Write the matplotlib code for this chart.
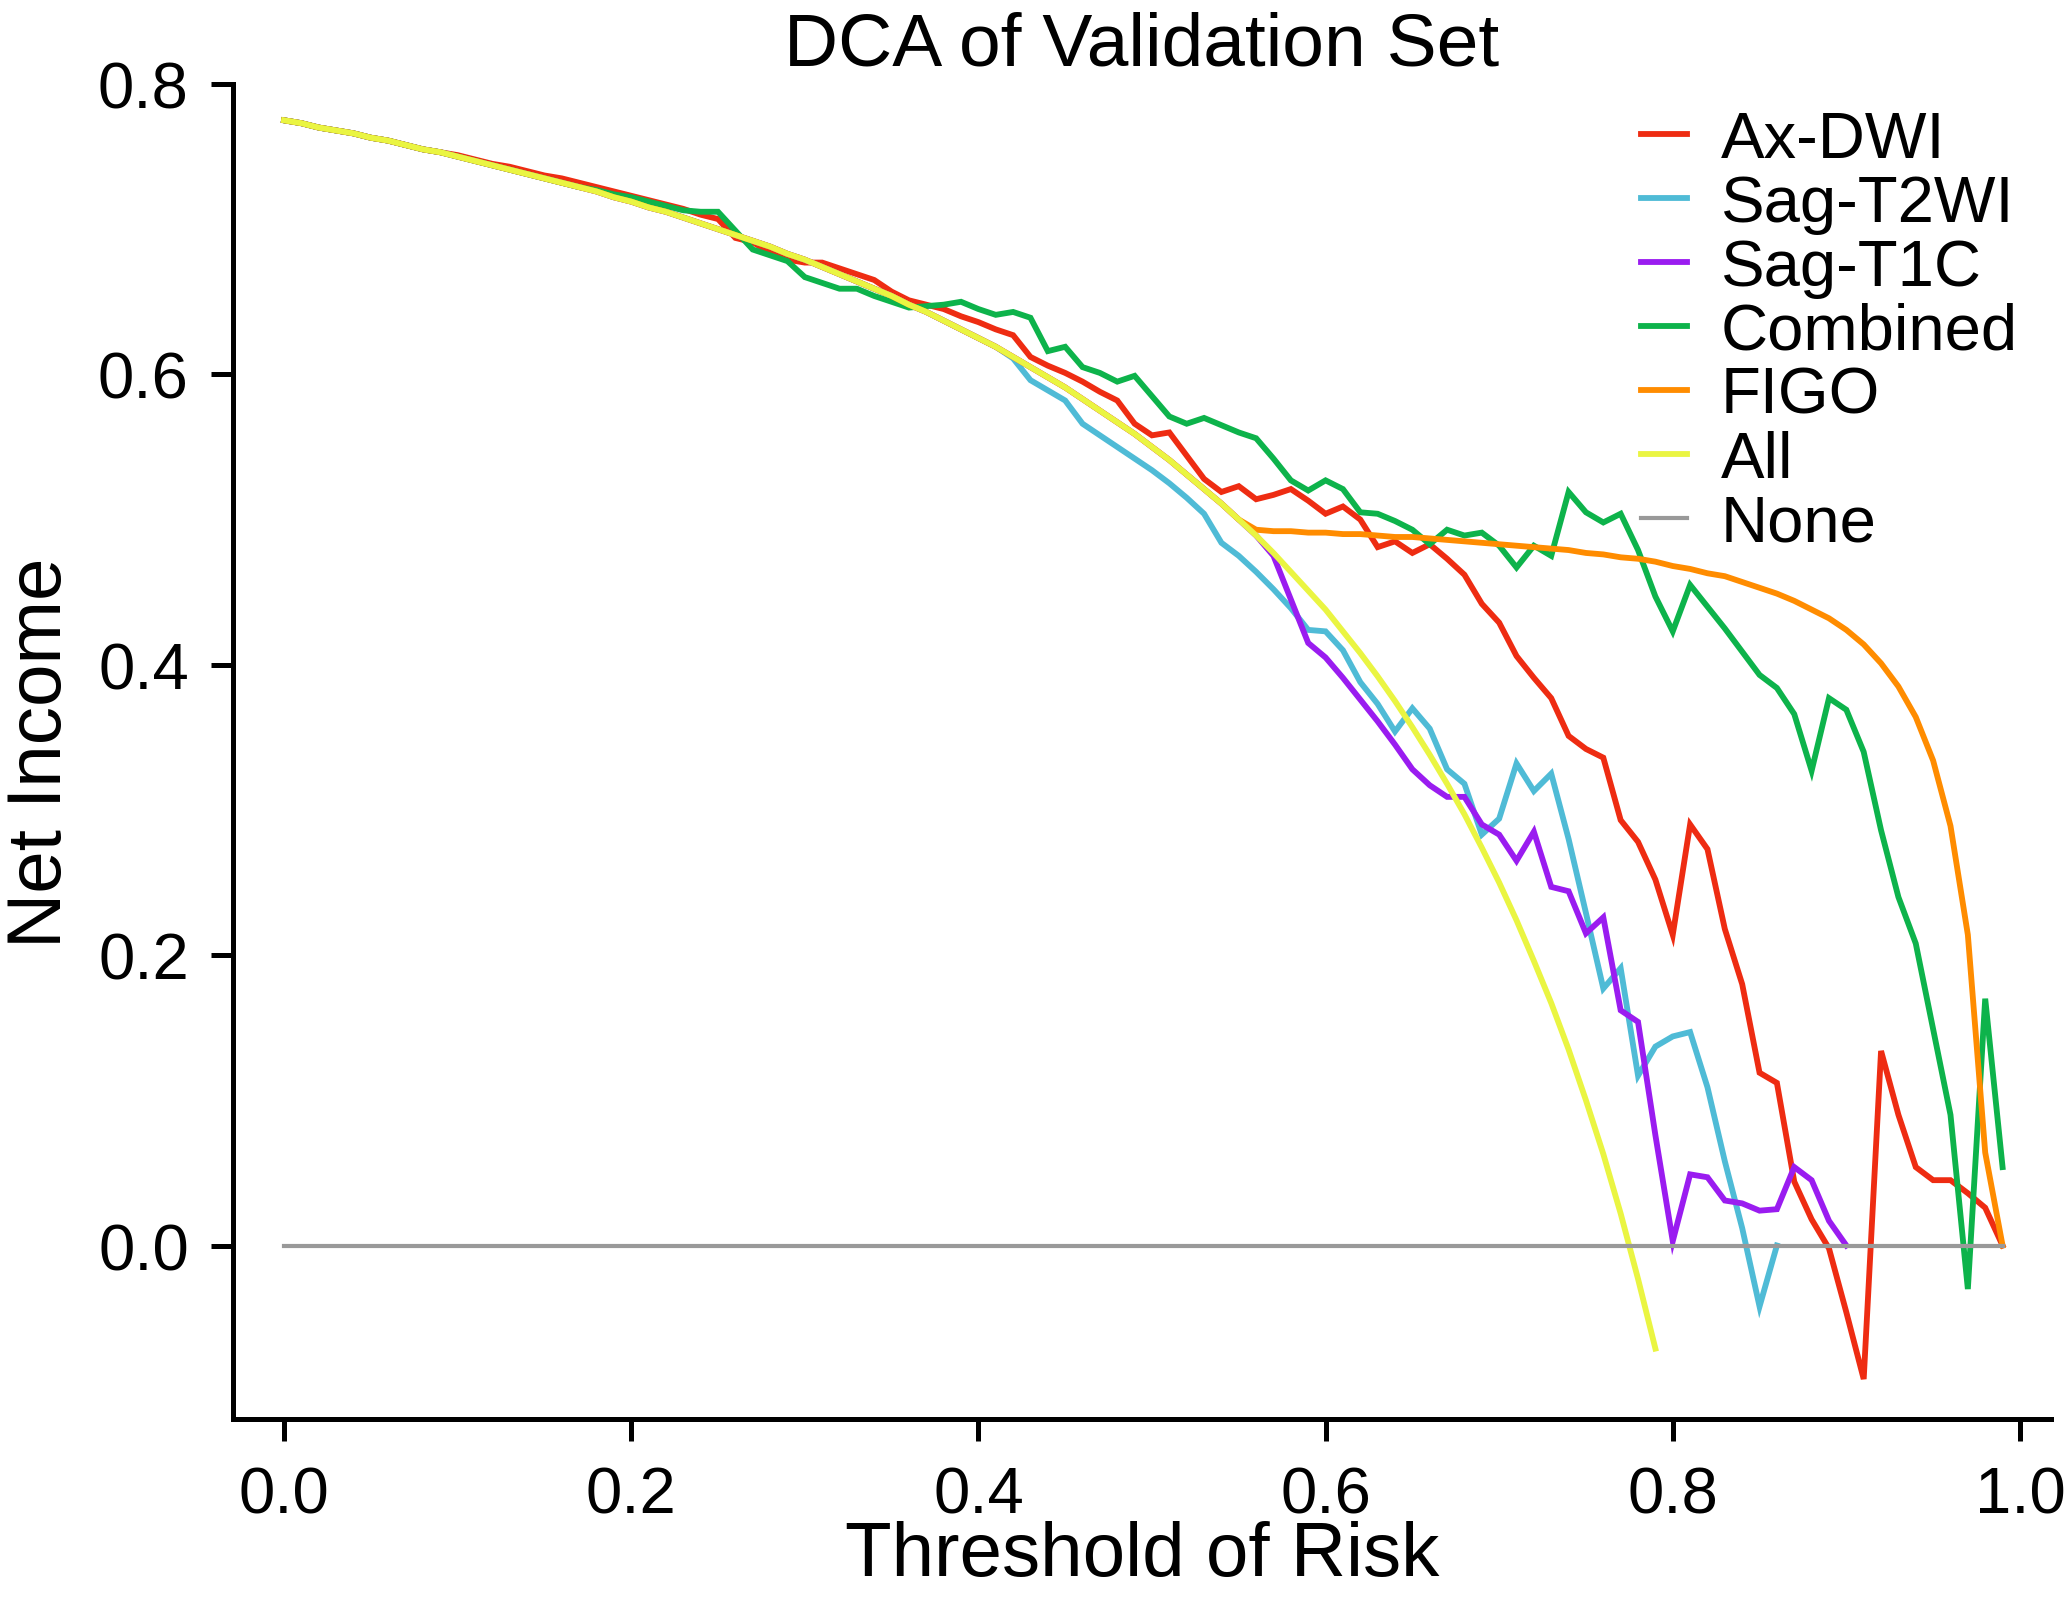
import numpy as np
import matplotlib
matplotlib.use('Agg')
import matplotlib.pyplot as plt

plt.rcParams['font.family'] = ['Liberation Sans', 'DejaVu Sans']

# threshold grid 0.00 .. 0.99
thresholds = np.round(np.arange(100) * 0.01, 2)

# treat-all curve (0.00 .. 0.79)
all_nb = [0.775, 0.773, 0.770, 0.768, 0.766, 0.763, 0.761, 0.758, 0.755, 0.753,
          0.750, 0.747, 0.744, 0.741, 0.738, 0.735, 0.732, 0.729, 0.726, 0.722,
          0.719, 0.715, 0.712, 0.708, 0.704, 0.700, 0.696, 0.692, 0.688, 0.683,
          0.679, 0.674, 0.669, 0.664, 0.659, 0.654, 0.648, 0.643, 0.637, 0.631,
          0.625, 0.619, 0.612, 0.605, 0.598, 0.591, 0.583, 0.575, 0.567, 0.559,
          0.550, 0.541, 0.531, 0.521, 0.511, 0.500, 0.489, 0.477, 0.464, 0.451,
          0.438, 0.423, 0.408, 0.392, 0.375, 0.357, 0.338, 0.318, 0.297, 0.274,
          0.250, 0.224, 0.196, 0.167, 0.135, 0.100, 0.063, 0.022, -0.023, -0.071]

# Ax-DWI (same as treat-all up to 0.09)
ax_dwi = all_nb[:10] + [
    0.751, 0.748, 0.745, 0.743, 0.740, 0.737, 0.735, 0.732, 0.729, 0.726,
    0.723, 0.720, 0.717, 0.714, 0.710, 0.707, 0.694, 0.691, 0.684, 0.679,
    0.677, 0.677, 0.673, 0.669, 0.665, 0.657, 0.651, 0.648, 0.645, 0.640,
    0.636, 0.631, 0.627, 0.612, 0.606, 0.601, 0.595, 0.588, 0.582, 0.566,
    0.558, 0.560, 0.544, 0.528, 0.519, 0.523, 0.514, 0.517, 0.521, 0.513,
    0.504, 0.509, 0.500, 0.481, 0.485, 0.477, 0.483, 0.473, 0.462, 0.442,
    0.429, 0.406, 0.391, 0.377, 0.351, 0.342, 0.336, 0.293, 0.278, 0.252,
    0.214, 0.290, 0.273, 0.218, 0.180, 0.119, 0.112, 0.044, 0.018, -0.002,
    -0.046, -0.092, 0.134, 0.090, 0.054, 0.045, 0.045, 0.036, 0.026, 0.000]

# Sag-T2WI (0.00 .. 0.86)
sag_t2wi = all_nb[:42] + [
    0.611, 0.596, 0.589, 0.582, 0.566, 0.558, 0.550, 0.542,
    0.534, 0.525, 0.515, 0.504, 0.484, 0.475, 0.464, 0.452, 0.439, 0.424,
    0.423, 0.410, 0.388, 0.373, 0.354, 0.370, 0.356, 0.328, 0.318, 0.283,
    0.294, 0.332, 0.313, 0.325, 0.280, 0.229, 0.177, 0.191, 0.117, 0.137,
    0.144, 0.147, 0.109, 0.058, 0.012, -0.042, 0.000]

# Sag-T1C (0.00 .. 0.90)
sag_t1c = all_nb[:57] + [
    0.475, 0.445, 0.415,
    0.405, 0.391, 0.376, 0.361, 0.345, 0.328, 0.317, 0.309, 0.309, 0.290,
    0.283, 0.265, 0.285, 0.247, 0.244, 0.215, 0.226, 0.162, 0.154, 0.076,
    0.003, 0.049, 0.047, 0.031, 0.029, 0.024, 0.025, 0.054, 0.045, 0.017, 0.000]

# Combined
combined = all_nb[:18] + [
    0.727, 0.724,
    0.722, 0.719, 0.716, 0.713, 0.712, 0.712, 0.699, 0.686, 0.682, 0.678,
    0.667, 0.663, 0.659, 0.659, 0.654, 0.650, 0.646, 0.647, 0.648, 0.650,
    0.645, 0.641, 0.643, 0.639, 0.616, 0.619, 0.605, 0.601, 0.595, 0.599,
    0.585, 0.571, 0.566, 0.570, 0.565, 0.560, 0.556, 0.542, 0.527, 0.520,
    0.527, 0.521, 0.505, 0.504, 0.499, 0.493, 0.483, 0.493, 0.489, 0.491,
    0.482, 0.467, 0.482, 0.475, 0.519, 0.505, 0.498, 0.504, 0.479, 0.447,
    0.423, 0.455, 0.440, 0.425, 0.409, 0.393, 0.384, 0.366, 0.327, 0.377,
    0.369, 0.340, 0.286, 0.240, 0.208, 0.149, 0.090, -0.030, 0.170, 0.054]

# FIGO
figo = all_nb[:56] + [
    0.493, 0.492, 0.492, 0.491, 0.491, 0.490, 0.490, 0.489, 0.488, 0.488,
    0.487, 0.486, 0.485, 0.484, 0.483, 0.482, 0.481, 0.480, 0.479, 0.477,
    0.476, 0.474, 0.473, 0.471, 0.468, 0.466, 0.463, 0.461, 0.457, 0.453,
    0.449, 0.444, 0.438, 0.432, 0.424, 0.414, 0.401, 0.385, 0.364, 0.334,
    0.289, 0.214, 0.064, 0.000]

none_nb = [0.0] * 100

series = [
    ('Ax-DWI', ax_dwi, '#EE2C12', 4.2),
    ('Sag-T2WI', sag_t2wi, '#4FBBD6', 4.2),
    ('Sag-T1C', sag_t1c, '#9A1CF0', 4.2),
    ('Combined', combined, '#0DB34B', 4.2),
    ('FIGO', figo, '#FF8C00', 4.2),
    ('All', all_nb, '#EAF542', 4.2),
    ('None', none_nb, '#999999', 3.0),
]

W, H = 2068, 1608
fig = plt.figure(figsize=(W / 100, H / 100), dpi=100)
ax = fig.add_axes([233 / W, 1 - 1420 / H, (2051 - 233) / W, (1420 - 85) / H])

for name, vals, col, lw in series:
    ax.plot(thresholds[:len(vals)], vals, color=col, lw=lw, label=name,
            solid_joinstyle='miter')

ax.set_xlim(-0.0294, 1.0179)
ax.set_ylim(-0.1195, 0.8)
ax.set_xticks([0.0, 0.2, 0.4, 0.6, 0.8, 1.0])
ax.set_yticks([0.0, 0.2, 0.4, 0.6, 0.8])

for s in ['top', 'right']:
    ax.spines[s].set_visible(False)
for s in ['left', 'bottom']:
    ax.spines[s].set_linewidth(3.6)
ax.tick_params(axis='both', length=15.8, width=3.6, labelsize=47)
ax.tick_params(axis='x', pad=18)
ax.tick_params(axis='y', pad=16)

ax.set_title('DCA of Validation Set', fontsize=54, pad=14)
ax.set_xlabel('Threshold of Risk', fontsize=55, labelpad=-4)
ax.set_ylabel('Net Income', fontsize=55, labelpad=15)

ax.legend(loc='upper left', bbox_to_anchor=(1641 / W, 1 - 111 / H),
          bbox_transform=fig.transFigure, frameon=False, fontsize=47,
          handlelength=0.7, handletextpad=0.52, labelspacing=0.06,
          borderpad=0, borderaxespad=0)

fig.savefig('out.png', dpi=100)
